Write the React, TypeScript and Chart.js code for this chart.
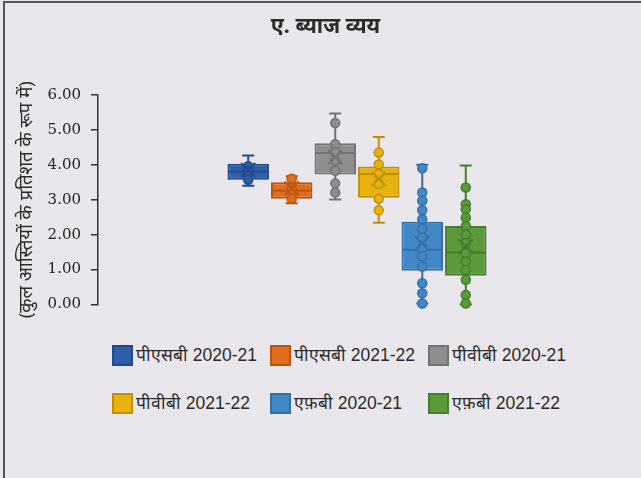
import React, { useEffect, useRef } from 'react';
import { Chart, registerables } from 'chart.js';

Chart.register(...registerables);

// Series (one box per series, all in a single group)
const seriesLabels = [
  'पीएसबी 2020-21',
  'पीएसबी 2021-22',
  'पीवीबी 2020-21',
  'पीवीबी 2021-22',
  'एफ़बी 2020-21',
  'एफ़बी 2021-22',
];
const fillColors = ['#2F5EA9', '#E06C1E', '#8E8E8E', '#E9B10F', '#4388C6', '#5B9A3B'];
const edgeColors = ['#22498A', '#B9570F', '#737373', '#C0900A', '#346FA6', '#467D2C'];

// Five-number summaries and means (% of total assets)
const lowWhisker = [3.40, 2.90, 3.01, 2.34, 0.03, 0.00];
const q1Values = [3.57, 3.03, 3.72, 3.06, 0.97, 0.82];
const medianValues = [3.81, 3.26, 4.34, 3.74, 1.57, 1.49];
const q3Values = [4.03, 3.50, 4.62, 3.95, 2.37, 2.25];
const highWhisker = [4.27, 3.67, 5.47, 4.80, 4.00, 3.98];
const meanValues = [3.85, 3.32, 4.22, 3.60, 1.75, 1.67];

// Individual observations
const psb2021Points = [3.96, 3.82, 3.57];
const psb2122Points = [3.60, 3.30, 3.03];
const pvb2021Points = [5.20, 4.59, 4.36, 4.12, 3.83, 3.47, 3.21];
const pvb2122Points = [4.35, 4.01, 3.74, 3.45, 3.03, 2.70];
const fb2021Points = [3.90, 3.21, 2.97, 2.70, 2.44, 2.17, 1.91, 1.62, 1.38, 1.09, 0.61, 0.32, 0.03];
const fb2122Points = [3.35, 2.87, 2.73, 2.49, 2.25, 2.00, 1.76, 1.47, 1.23, 0.99, 0.71, 0.27, 0.03];
const pointSets = [psb2021Points, psb2122Points, pvb2021Points, pvb2122Points, fb2021Points, fb2122Points];

const yTicks = [0, 1, 2, 3, 4, 5, 6];

const chartTitle = 'ए. ब्याज व्यय';
const yTitle = '(कुल आस्तियों के प्रतिशत के रूप में)';

const BG = '#E9E7EC';
const TEXT = '#2B2B2B';

// Heading centred across the whole canvas
const headingPlugin = {
  id: 'heading',
  afterDraw(chart: any) {
    const { ctx } = chart;
    ctx.save();
    ctx.fillStyle = TEXT;
    ctx.font = "bold 21.5px 'Noto Sans', sans-serif";
    ctx.textAlign = 'center';
    ctx.textBaseline = 'middle';
    ctx.fillText(chartTitle, chart.width / 2, 27);
    ctx.restore();
  },
};

// Whiskers, medians, observations and mean markers drawn on top of the floating bars
const boxDetails = {
  id: 'boxDetails',
  afterDatasetsDraw(chart: any) {
    const { ctx } = chart;
    const yScale = chart.scales.y;
    const py = (v: number) => yScale.getPixelForValue(v);
    chart.data.datasets.forEach((_ds: any, i: number) => {
      const meta = chart.getDatasetMeta(i);
      const bar: any = meta.data[0];
      if (!bar) return;
      const cx = bar.x;
      const half = bar.width / 2;
      const edge = edgeColors[i];
      ctx.save();
      ctx.strokeStyle = edge;
      ctx.lineWidth = 2;
      ctx.beginPath();
      ctx.moveTo(cx, py(q3Values[i]));
      ctx.lineTo(cx, py(highWhisker[i]));
      ctx.moveTo(cx, py(q1Values[i]));
      ctx.lineTo(cx, py(lowWhisker[i]));
      ctx.moveTo(cx - 6, py(highWhisker[i]));
      ctx.lineTo(cx + 6, py(highWhisker[i]));
      ctx.moveTo(cx - 6, py(lowWhisker[i]));
      ctx.lineTo(cx + 6, py(lowWhisker[i]));
      ctx.moveTo(cx - half + 1, py(medianValues[i]));
      ctx.lineTo(cx + half - 1, py(medianValues[i]));
      ctx.stroke();

      ctx.lineWidth = 1.5;
      ctx.fillStyle = fillColors[i];
      pointSets[i].forEach((v) => {
        ctx.beginPath();
        ctx.arc(cx, py(v), 4.5, 0, Math.PI * 2);
        ctx.fill();
        ctx.stroke();
      });

      const my = py(meanValues[i]);
      const r = 7;
      ctx.lineWidth = 2;
      ctx.beginPath();
      ctx.moveTo(cx - r, my - r);
      ctx.lineTo(cx + r, my + r);
      ctx.moveTo(cx + r, my - r);
      ctx.lineTo(cx - r, my + r);
      ctx.stroke();
      ctx.restore();
    });
  },
};

export default function App() {
  const canvasRef = useRef<HTMLCanvasElement | null>(null);

  useEffect(() => {
    const canvas = canvasRef.current;
    if (!canvas) return;
    const chart = new Chart(canvas, {
      type: 'bar',
      data: {
        labels: [''],
        datasets: seriesLabels.map((label, i) => ({
          label,
          data: [[q1Values[i], q3Values[i]]] as any,
          backgroundColor: fillColors[i],
          borderColor: edgeColors[i],
          borderWidth: 2,
          borderSkipped: false,
          categoryPercentage: 0.504,
          barPercentage: 0.953,
        })),
      },
      options: {
        animation: false,
        responsive: false,
        devicePixelRatio: 1,
        layout: { padding: { left: 0, right: 35, top: 95, bottom: 25.5 } },
        plugins: {
          legend: { display: false },
          tooltip: { enabled: false },
          title: { display: false },
        },
        scales: {
          x: { display: false },
          y: {
            min: yTicks[0],
            max: yTicks[yTicks.length - 1],
            afterFit: (scale: any) => {
              scale.width = 98;
            },
            ticks: {
              stepSize: yTicks[1] - yTicks[0],
              padding: 10,
              color: '#222222',
              font: { family: "'DejaVu Serif', serif", size: 15 },
              callback: (v: any) => Number(v).toFixed(2),
            },
            grid: {
              display: true,
              drawOnChartArea: false,
              tickLength: 7,
              color: '#333333',
              lineWidth: 1.5,
            },
            border: { display: true, color: '#333333', width: 1.5 },
            title: {
              display: true,
              text: yTitle,
              color: TEXT,
              font: { family: "'Noto Sans', sans-serif", size: 18.5 },
              padding: { top: 16, bottom: 0 },
            },
          },
        },
      },
      plugins: [boxDetails, headingPlugin],
    });
    return () => chart.destroy();
  }, []);

  return (
    <div
      style={{
        position: 'fixed',
        left: 0,
        top: 0,
        width: 641,
        height: 478,
        overflow: 'hidden',
        background: BG,
      }}
    >
      <div
        style={{
          position: 'absolute',
          left: 3,
          top: 1,
          width: 700,
          height: 600,
          borderLeft: '2px solid #555555',
          borderTop: '2px solid #555555',
        }}
      />
      <canvas
        ref={canvasRef}
        width={651}
        height={330}
        style={{ position: 'absolute', left: 0, top: 0, width: 651, height: 330 }}
      />
      {seriesLabels.map((label, i) => {
        const col = i % 3;
        const row = Math.floor(i / 3);
        return (
          <div
            key={label}
            style={{
              position: 'absolute',
              left: 112 + col * 158,
              top: 345 + row * 48,
              height: 21,
              display: 'flex',
              alignItems: 'center',
              whiteSpace: 'nowrap',
            }}
          >
            <div
              style={{
                width: 21,
                height: 21,
                boxSizing: 'border-box',
                background: fillColors[i],
                border: `2px solid ${edgeColors[i]}`,
              }}
            />
            <span
              style={{
                marginLeft: 3,
                fontFamily: "'Liberation Sans', Arial, sans-serif",
                fontSize: 17.5,
                color: TEXT,
                lineHeight: '21px',
              }}
            >
              {label}
            </span>
          </div>
        );
      })}
    </div>
  );
}
